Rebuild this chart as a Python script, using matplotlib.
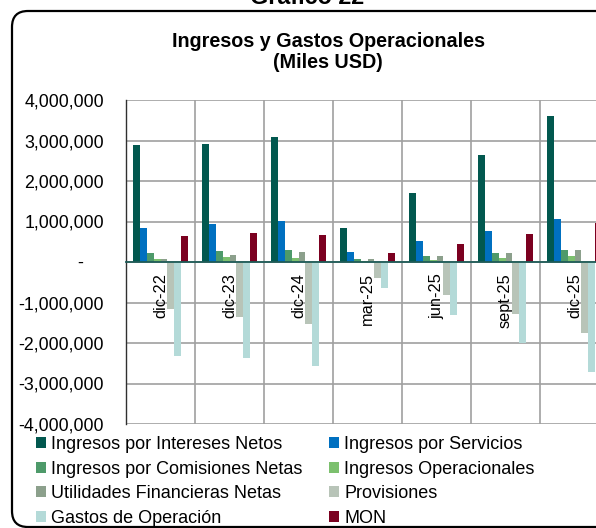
import matplotlib
matplotlib.use("Agg")
import matplotlib.pyplot as plt
from matplotlib.patches import FancyBboxPatch
from matplotlib.transforms import IdentityTransform
from matplotlib.ticker import FixedLocator, FuncFormatter, NullFormatter
import numpy as np

plt.rcParams['font.family'] = ['Liberation Sans', 'DejaVu Sans']

categories = ['dic-22', 'dic-23', 'dic-24', 'mar-25', 'jun-25', 'sept-25', 'dic-25']
intereses = [2900000, 2920000, 3080000, 840000, 1700000, 2630000, 3610000]
servicios = [830000, 950000, 1010000, 250000, 510000, 770000, 1050000]
comisiones = [210000, 260000, 300000, 66000, 140000, 210000, 290000]
operacionales = [66000, 115000, 100000, 30000, 60000, 100000, 160000]
utilidades = [74000, 180000, 240000, 66000, 140000, 220000, 300000]
provisiones = [-1150000, -1350000, -1520000, -400000, -810000, -1290000, -1760000]
gastos = [-2320000, -2380000, -2560000, -630000, -1310000, -2000000, -2720000]
mon = [640000, 710000, 665000, 210000, 440000, 690000, 960000]

series_names = ['Ingresos por Intereses Netos', 'Ingresos por Servicios',
                'Ingresos por Comisiones Netas', 'Ingresos Operacionales',
                'Utilidades Financieras Netas', 'Provisiones',
                'Gastos de Operación', 'MON']
series = [intereses, servicios, comisiones, operacionales, utilidades,
          provisiones, gastos, mon]
colors = ['#02584F', '#0070C0', '#4E9A6A', '#7CC06E', '#8CA08C',
          '#B8C4B8', '#B4DAD8', '#7B0020']

W, H = 596, 528
fig = plt.figure(figsize=(W / 100, H / 100), dpi=100)

ax_left, ax_right, ax_top, ax_bottom = 126, 609, 100, 424
ax = fig.add_axes([ax_left / W, 1 - ax_bottom / H,
                   (ax_right - ax_left) / W, (ax_bottom - ax_top) / H])

x = np.arange(len(categories))
bw = 0.1
handles = []
for i, (vals, c, name) in enumerate(zip(series, colors, series_names)):
    off = (i - 3.5) * bw
    b = ax.bar(x + off, vals, width=bw, color=c, label=name, zorder=3)
    handles.append(b)

ax.set_xlim(-0.5, len(categories) - 0.5)
ax.set_ylim(-4000000, 4000000)

yt = np.arange(-4000000, 4000001, 1000000)
ax.yaxis.set_major_locator(FixedLocator(yt))

def yfmt(v, pos):
    if abs(v) < 1:
        return '-    '
    return f'{int(v):,}'

ax.yaxis.set_major_formatter(FuncFormatter(yfmt))
ax.tick_params(axis='y', length=0, pad=16, labelsize=12.8, labelcolor='black')

# Category boundaries as vertical gridlines; labels drawn at the zero line
ax.set_xticks(x)
ax.xaxis.set_major_formatter(NullFormatter())
ax.set_xticks(np.arange(-0.5, len(categories), 1), minor=True)
ax.tick_params(axis='x', which='both', length=0)
for xi, cat in zip(x, categories):
    ax.annotate(cat, xy=(xi, 0), xytext=(0, -8), textcoords='offset points',
                rotation=90, ha='center', va='top', fontsize=11.8, zorder=6)

ax.grid(axis='y', which='major', color='#A0A0A0', lw=1.2)
ax.grid(axis='x', which='minor', color='#A0A0A0', lw=1.2)
ax.set_axisbelow(True)

ax.spines['bottom'].set_position(('data', 0))
ax.spines['bottom'].set_color('#1F5C58')
ax.spines['bottom'].set_linewidth(1.3)
ax.spines['bottom'].set_zorder(4)
ax.spines['top'].set_visible(False)
ax.spines['right'].set_visible(False)
ax.spines['left'].set_color('#303030')
ax.spines['left'].set_linewidth(1.0)

# Titles
fig.text(328 / W, 1 - 47 / H, 'Ingresos y Gastos Operacionales', ha='center', va='baseline',
         fontsize=14.2, fontweight='bold')
fig.text(328 / W, 1 - 68 / H, '(Miles USD)', ha='center', va='baseline',
         fontsize=14.2, fontweight='bold')
fig.text(307 / W, 1 - 3.5 / H, 'Gráfico 22', ha='center', va='baseline',
         fontsize=16.8, fontweight='bold')

# Rounded frame
frame = FancyBboxPatch((12, 1), 620, 516,
                       boxstyle='round,pad=0,rounding_size=16',
                       transform=IdentityTransform(), fill=False,
                       edgecolor='black', lw=1.6)
fig.add_artist(frame)

# Legend (row-major order like the reference)
order = [0, 2, 4, 6, 1, 3, 5, 7]
leg = fig.legend([handles[i] for i in order], [series_names[i] for i in order],
                 loc='upper left', bbox_to_anchor=(36 / W, 1 - 436 / H),
                 ncol=2, frameon=False, fontsize=13,
                 handlelength=0.55, handleheight=0.55, handletextpad=0.28,
                 columnspacing=1.5, labelspacing=0.42, borderpad=0,
                 borderaxespad=0)

fig.savefig('out.png', dpi=100)
